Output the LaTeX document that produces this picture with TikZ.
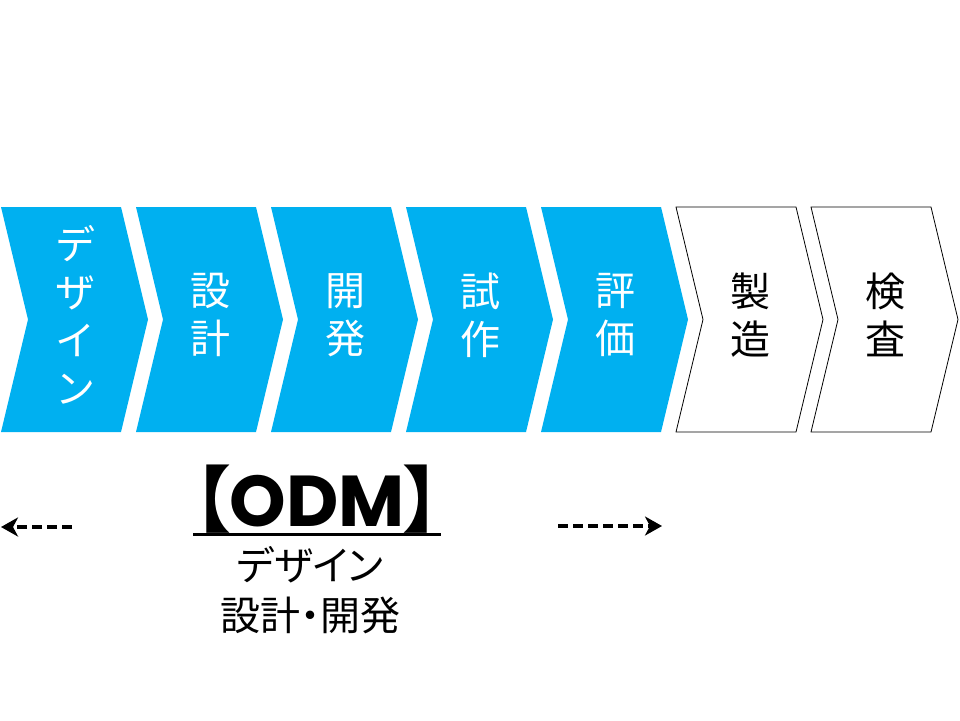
\documentclass[tikz,border=0pt]{standalone}
\usepackage{fontspec}
\setmainfont{Noto Sans CJK JP}
\newfontfamily\jppalt[RawFeature=+palt]{Noto Sans CJK JP}
\newfontfamily\odmlatin{Poppins}
\usetikzlibrary{arrows.meta,positioning}
\definecolor{stepblue}{HTML}{00B0F0}

\tikzset{
	stepfill/.style={fill=stepblue, draw=none},
	stepline/.style={draw=black, line width=0.8pt, fill=white},
	steptext/.style={align=center, inner sep=0pt, font=\fontsize{40}{48}\selectfont},
	odmarrow/.style={-{Stealth[length=17pt,width=19pt,inset=5pt]}, line width=3.5pt, dash pattern=on 10pt off 5pt},
}

\begin{document}
\begin{tikzpicture}[x=1pt,y=-1pt]
	\useasboundingbox (0,0) rectangle (960,720);
	
	% blue steps
	\foreach \i/\txt in {0/{デ\\ザ\\イ\\ン},1/{設\\計},2/{開\\発},3/{試\\作},4/{評\\価}} {
		\path[stepfill] ({1+135*\i},207) -- ++(120,0) -- ++(27,112.5) -- ++(-27,112.5) -- ++(-120,0) -- ++(27,-112.5) -- cycle;
		\node[steptext, text=white] (s\i) at ({75+135*\i},315) {\txt};
	}
	
	% white steps
	\foreach \i/\txt in {5/{製\\造},6/{検\\査}} {
		\path[stepline] ({1+135*\i},207) -- ++(120,0) -- ++(27,112.5) -- ++(-27,112.5) -- ++(-120,0) -- ++(27,-112.5) -- cycle;
		\node[steptext] (s\i) at ({75+135*\i},315) {\txt};
	}
	
	\node[inner xsep=0pt, inner ysep=1.5pt, font=\fontsize{72}{74}\selectfont\jppalt\bfseries] (odm) at (317,499) {【{\odmlatin\bfseries ODM}】};
	\draw[line width=3pt] (odm.south west) -- (odm.south east);
	\node[below=11pt of odm, xshift=-7pt, align=center, inner sep=0pt, font=\fontsize{40}{50}\selectfont\jppalt] (odmsub) {デザイン\\設計・開発};
	
	\coordinate (la) at (72,527);
	\coordinate (lb) at (1,527);
	\coordinate (ra) at (558,526);
	\coordinate (rb) at (662,526);
	\draw[odmarrow] (la) -- (lb);
	\draw[odmarrow] (ra) -- (rb);
\end{tikzpicture}
\end{document}
